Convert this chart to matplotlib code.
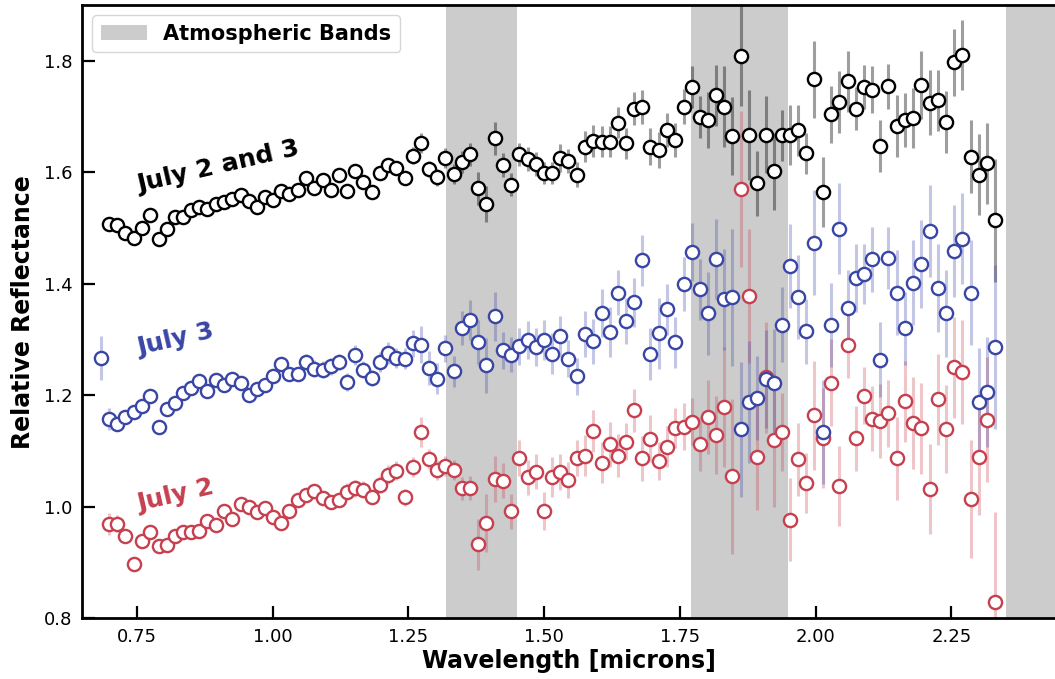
import numpy as np
import matplotlib
matplotlib.use("Agg")
import matplotlib.pyplot as plt
from matplotlib.patches import Patch

nan = np.nan

# wavelength grid [microns]
wavelength = [0.684,
    0.699, 0.714, 0.729, 0.744, 0.759, 0.775, 0.790, 0.805, 0.820, 0.835,
    0.850, 0.865, 0.880, 0.895, 0.911, 0.926, 0.941, 0.956, 0.971, 0.986,
    1.001, 1.016, 1.031, 1.047, 1.062, 1.077, 1.092, 1.107, 1.122, 1.137,
    1.152, 1.167, 1.183, 1.198, 1.213, 1.228, 1.243, 1.258, 1.273, 1.288,
    1.303, 1.318, 1.334, 1.349, 1.364, 1.379, 1.394, 1.409, 1.424, 1.439,
    1.454, 1.470, 1.485, 1.500, 1.515, 1.530, 1.545, 1.560, 1.575, 1.590,
    1.606, 1.621, 1.636, 1.651, 1.666, 1.681, 1.696, 1.711, 1.726, 1.742,
    1.757, 1.772, 1.787, 1.802, 1.817, 1.832, 1.847, 1.862, 1.878, 1.893,
    1.908, 1.923, 1.938, 1.953, 1.968, 1.983, 1.998, 2.014, 2.029, 2.044,
    2.059, 2.074, 2.089, 2.104, 2.119, 2.134, 2.150, 2.165, 2.180, 2.195,
    2.210, 2.225, 2.240, 2.255, 2.270, 2.286, 2.301, 2.316, 2.331]

# July 2 and 3 (combined)
refl_both = [nan,
    1.508, 1.505, 1.492, 1.483, 1.500, 1.524, 1.480, 1.499, 1.520, 1.520,
    1.532, 1.538, 1.535, 1.543, 1.547, 1.552, 1.559, 1.548, 1.538, 1.556,
    1.550, 1.567, 1.561, 1.568, 1.590, 1.572, 1.586, 1.568, 1.595, 1.567,
    1.602, 1.583, 1.565, 1.599, 1.613, 1.607, 1.589, 1.630, 1.653, 1.606,
    1.591, 1.626, 1.597, 1.619, 1.632, 1.571, 1.543, 1.661, 1.613, 1.578,
    1.632, 1.624, 1.615, 1.599, 1.599, 1.625, 1.620, 1.596, 1.646, 1.656,
    1.655, 1.655, 1.689, 1.652, 1.714, 1.717, 1.646, 1.640, 1.676, 1.658,
    1.718, 1.753, 1.699, 1.694, 1.738, 1.718, 1.665, 1.809, 1.667, 1.580,
    1.667, 1.602, 1.666, 1.667, 1.675, 1.634, 1.767, 1.564, 1.704, 1.726,
    1.763, 1.714, 1.753, 1.748, 1.647, 1.754, 1.683, 1.694, 1.698, 1.756,
    1.725, 1.729, 1.690, 1.797, 1.811, 1.628, 1.596, 1.616, 1.514]
err_both = [nan,
    0.006, 0.006, 0.006, 0.006, 0.006, 0.006, 0.006, 0.006, 0.006, 0.006,
    0.006, 0.006, 0.006, 0.006, 0.006, 0.006, 0.006, 0.006, 0.006, 0.006,
    0.006, 0.010, 0.010, 0.010, 0.010, 0.010, 0.010, 0.010, 0.010, 0.010,
    0.010, 0.010, 0.010, 0.010, 0.010, 0.010, 0.010, 0.015, 0.018, 0.015,
    0.015, 0.018, 0.018, 0.020, 0.020, 0.030, 0.033, 0.030, 0.022, 0.020,
    0.020, 0.022, 0.022, 0.020, 0.020, 0.025, 0.022, 0.022, 0.028, 0.028,
    0.028, 0.028, 0.028, 0.028, 0.030, 0.030, 0.033, 0.033, 0.030, 0.030,
    0.031, 0.037, 0.037, 0.050, 0.055, 0.073, 0.070, 0.090, 0.080, 0.058,
    0.069, 0.069, 0.045, 0.054, 0.045, 0.037, 0.069, 0.063, 0.051, 0.055,
    0.054, 0.039, 0.039, 0.042, 0.046, 0.040, 0.055, 0.048, 0.054, 0.061,
    0.058, 0.055, 0.055, 0.060, 0.063, 0.066, 0.072, 0.073, 0.110]

# July 3
refl_jul3 = [1.267,
    1.157, 1.149, 1.161, 1.170, 1.180, 1.199, 1.143, 1.175, 1.186, 1.204,
    1.214, 1.226, 1.208, 1.227, 1.219, 1.230, 1.222, 1.201, 1.212, 1.218,
    1.234, 1.257, 1.238, 1.238, 1.260, 1.248, 1.246, 1.252, 1.260, 1.224,
    1.273, 1.246, 1.231, 1.260, 1.276, 1.267, 1.266, 1.293, 1.291, 1.249,
    1.230, 1.284, 1.243, 1.321, 1.335, 1.296, 1.254, 1.342, 1.281, 1.273,
    1.288, 1.299, 1.287, 1.299, 1.275, 1.306, 1.266, 1.234, 1.310, 1.297,
    1.347, 1.314, 1.384, 1.333, 1.367, 1.442, 1.274, 1.311, 1.354, 1.295,
    1.400, 1.457, 1.390, 1.347, 1.445, 1.372, 1.376, 1.139, 1.188, 1.195,
    1.230, 1.223, 1.327, 1.432, 1.376, 1.315, 1.474, 1.134, 1.326, 1.499,
    1.356, 1.411, 1.418, 1.444, 1.264, 1.446, 1.384, 1.320, 1.402, 1.435,
    1.495, 1.393, 1.347, 1.459, 1.481, 1.384, 1.188, 1.206, 1.287]
err_jul3 = [0.040,
    0.020, 0.008, 0.008, 0.008, 0.008, 0.008, 0.008, 0.008, 0.008, 0.008,
    0.008, 0.008, 0.008, 0.008, 0.008, 0.008, 0.008, 0.008, 0.008, 0.008,
    0.008, 0.012, 0.012, 0.012, 0.015, 0.015, 0.015, 0.015, 0.015, 0.016,
    0.018, 0.015, 0.015, 0.018, 0.020, 0.018, 0.018, 0.025, 0.033, 0.030,
    0.028, 0.025, 0.028, 0.030, 0.036, 0.039, 0.049, 0.044, 0.033, 0.031,
    0.033, 0.034, 0.034, 0.036, 0.037, 0.037, 0.033, 0.033, 0.042, 0.040,
    0.043, 0.045, 0.040, 0.041, 0.044, 0.046, 0.046, 0.064, 0.045, 0.046,
    0.048, 0.052, 0.055, 0.075, 0.072, 0.090, 0.123, 0.121, 0.110, 0.075,
    0.088, 0.096, 0.067, 0.076, 0.075, 0.058, 0.094, 0.093, 0.075, 0.081,
    0.069, 0.061, 0.054, 0.058, 0.067, 0.055, 0.076, 0.066, 0.076, 0.079,
    0.082, 0.079, 0.078, 0.082, 0.082, 0.094, 0.096, 0.099, 0.147]

# July 2
refl_jul2 = [nan,
    0.969, 0.970, 0.948, 0.897, 0.938, 0.955, 0.930, 0.931, 0.948, 0.954,
    0.955, 0.956, 0.974, 0.967, 0.992, 0.978, 1.005, 0.999, 0.990, 0.998,
    0.981, 0.971, 0.992, 1.012, 1.021, 1.029, 1.015, 1.008, 1.012, 1.027,
    1.033, 1.031, 1.017, 1.040, 1.058, 1.065, 1.017, 1.071, 1.134, 1.085,
    1.066, 1.073, 1.066, 1.033, 1.034, 0.933, 0.971, 1.050, 1.047, 0.992,
    1.088, 1.053, 1.063, 0.993, 1.054, 1.062, 1.048, 1.087, 1.092, 1.136,
    1.079, 1.112, 1.092, 1.117, 1.173, 1.087, 1.122, 1.083, 1.108, 1.142,
    1.144, 1.153, 1.113, 1.161, 1.129, 1.179, 1.055, 1.570, 1.378, 1.090,
    1.232, 1.119, 1.134, 0.977, 1.085, 1.043, 1.164, 1.124, 1.223, 1.037,
    1.291, 1.123, 1.199, 1.158, 1.154, 1.168, 1.087, 1.189, 1.150, 1.141,
    1.032, 1.193, 1.140, 1.250, 1.242, 1.014, 1.089, 1.156, 0.830]
err_jul2 = [nan,
    0.020, 0.015, 0.008, 0.008, 0.008, 0.008, 0.008, 0.008, 0.008, 0.008,
    0.008, 0.008, 0.008, 0.008, 0.008, 0.008, 0.008, 0.008, 0.008, 0.008,
    0.008, 0.008, 0.008, 0.008, 0.008, 0.008, 0.008, 0.008, 0.008, 0.015,
    0.015, 0.015, 0.012, 0.015, 0.017, 0.017, 0.015, 0.018, 0.027, 0.018,
    0.018, 0.018, 0.018, 0.020, 0.022, 0.046, 0.052, 0.042, 0.031, 0.031,
    0.032, 0.031, 0.031, 0.034, 0.036, 0.032, 0.032, 0.032, 0.037, 0.037,
    0.037, 0.040, 0.038, 0.033, 0.039, 0.040, 0.042, 0.034, 0.037, 0.036,
    0.042, 0.042, 0.048, 0.066, 0.070, 0.108, 0.139, 0.140, 0.120, 0.096,
    0.100, 0.120, 0.070, 0.074, 0.066, 0.054, 0.098, 0.090, 0.078, 0.072,
    0.060, 0.058, 0.051, 0.058, 0.066, 0.060, 0.075, 0.073, 0.082, 0.082,
    0.081, 0.082, 0.079, 0.091, 0.093, 0.105, 0.104, 0.112, 0.160]

# telluric bands [microns]
band_lo = [1.32, 1.77, 2.35]
band_hi = [1.45, 1.95, 2.60]

blue = '#3a46a6'
red = '#c6404f'

fig = plt.figure(figsize=(10.55, 6.79), dpi=100)
ax = fig.add_axes([0.0777, 0.0893, 0.9223, 0.9033])

for lo, hi in zip(band_lo, band_hi):
    ax.axvspan(lo, hi, color='0.8', lw=0, zorder=0)

marker_kw = dict(fmt='o', ms=9.5, mew=1.7, mfc='white', elinewidth=2.2, capsize=0)
ax.errorbar(wavelength, refl_both, yerr=err_both, mec='black', ecolor=(0, 0, 0, 0.38), **marker_kw)
ax.errorbar(wavelength, refl_jul2, yerr=err_jul2, mec=red, ecolor=(0.78, 0.25, 0.31, 0.3), **marker_kw)
ax.errorbar(wavelength, refl_jul3, yerr=err_jul3, mec=blue, ecolor=(0.23, 0.27, 0.65, 0.3), **marker_kw)

ax.text(0.755, 1.565, 'July 2 and 3', rotation=13, rotation_mode='anchor',
        fontsize=18, fontweight='bold', color='black')
ax.text(0.755, 1.272, 'July 3', rotation=13, rotation_mode='anchor',
        fontsize=18, fontweight='bold', color=blue)
ax.text(0.755, 0.993, 'July 2', rotation=13, rotation_mode='anchor',
        fontsize=18, fontweight='bold', color=red)

ax.set_xlim(0.649, 2.441)
ax.set_ylim(0.8, 1.9)
ax.set_xticks([0.75, 1.00, 1.25, 1.50, 1.75, 2.00, 2.25])
ax.set_xticklabels(['0.75', '1.00', '1.25', '1.50', '1.75', '2.00', '2.25'])
ax.set_yticks([0.8, 1.0, 1.2, 1.4, 1.6, 1.8])
ax.tick_params(direction='in', length=9, width=1.6, labelsize=13, pad=7)
for side in ['left', 'top', 'bottom']:
    ax.spines[side].set_linewidth(2)
ax.spines['right'].set_visible(False)

ax.set_xlabel('Wavelength [microns]', fontsize=17, fontweight='bold', labelpad=2)
ax.set_ylabel('Relative Reflectance', fontsize=17, fontweight='bold', labelpad=6)

leg = ax.legend(handles=[Patch(facecolor='0.8', edgecolor='none', label='Atmospheric Bands')],
                loc='upper left', prop={'size': 15, 'weight': 'bold'},
                borderaxespad=0.5, handlelength=2.2)

fig.savefig('out.png', dpi=100)
